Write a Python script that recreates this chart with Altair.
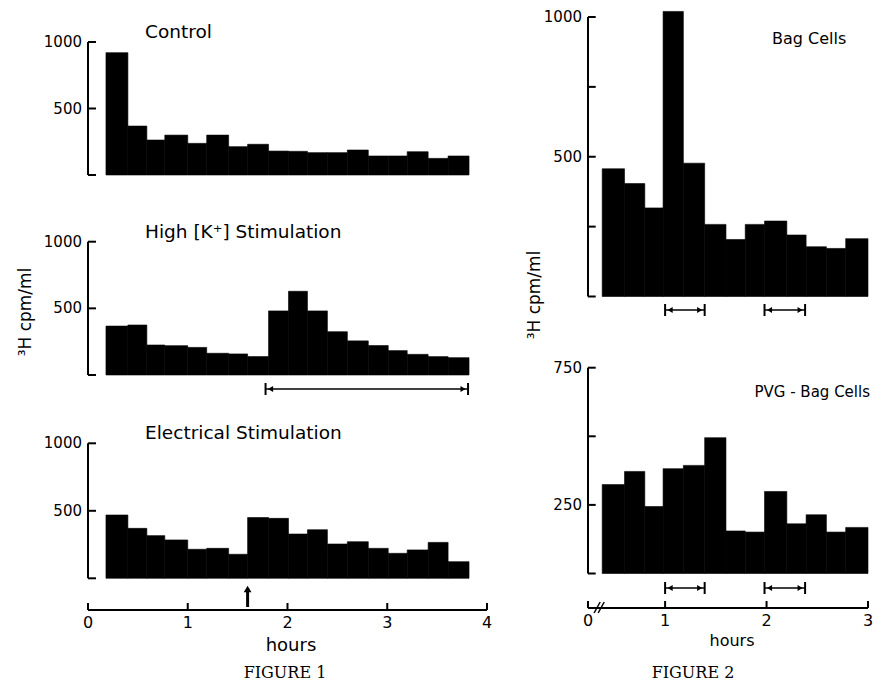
import altair as alt
import pandas as pd

FONT = "DejaVu Sans"
SERIF = "DejaVu Serif"

# ---------------- data ----------------
# Figure 1: bin edges in hours (18 collection periods)
fig1_edges = [0.18, 0.40, 0.59, 0.77, 1.00, 1.19, 1.41, 1.60, 1.81, 2.01,
              2.20, 2.40, 2.60, 2.81, 3.01, 3.20, 3.41, 3.61, 3.82]
control = [920, 368, 263, 300, 238, 300, 213, 231, 180, 178,
           168, 168, 188, 143, 143, 175, 125, 143]
high_k = [367, 375, 225, 220, 207, 163, 158, 138, 481, 628,
          481, 325, 256, 221, 183, 155, 138, 130]
electrical = [469, 370, 316, 284, 215, 222, 178, 450, 444, 328,
              360, 254, 271, 222, 185, 210, 266, 123]

# Figure 2: bin edges in hours (13 collection periods)
fig2_edges = [0.38, 0.60, 0.80, 0.98, 1.18, 1.39, 1.60, 1.79, 1.98,
              2.20, 2.39, 2.59, 2.78, 3.00]
bag_cells = [457, 404, 317, 1020, 477, 258, 204, 258, 270, 220, 178, 172, 207]
pvg_bag_cells = [324, 372, 244, 382, 394, 495, 155, 151, 299, 181, 214, 151, 168]

# axes
fig1_x_ticks = [0, 1, 2, 3, 4]
fig2_x_ticks = [1, 2, 3]
fig2_origin = 0.24            # broken-axis origin, labelled "0"
fig1_y_ticks = [0, 500, 1000]
fig1_y_labels = [500, 1000]
bag_y_ticks = [0, 250, 500, 750, 1000]
bag_y_labels = [500, 1000]
pvg_y_ticks = [0, 250, 500, 750]
pvg_y_labels = [250, 750]

# stimulation periods
highk_stim = [(1.78, 3.81)]
fig2_stims = [(1.0, 1.39), (1.98, 2.38)]
elec_stim_time = [1.6]

titles1 = ["Control", "High [K\u207a] Stimulation", "Electrical Stimulation"]
ylabel = "\u00b3H cpm/ml"

# ---------------- scales (pixel ranges = layout) ----------------
def S(domain, rng):
    return alt.Scale(domain=domain, range=rng, nice=False, zero=False)

X1 = S([0, 4], [80, 479])
X2 = S([1, 3], [657.1, 860])
Y_CTRL = S([0, 1000], [167, 34])
Y_K = S([0, 1000], [367, 233.7])
Y_E = S([0, 1000], [570.3, 435.3])
Y_BAG = S([0, 1000], [288.5, 9])
Y_PVG = S([0, 750], [565.5, 359.7])

layers = []


def bars(edges, values, xs, ys):
    df = pd.DataFrame({"start": edges[:-1], "end": edges[1:],
                       "value": values, "base": [0] * len(values)})
    return alt.Chart(df).mark_rect(color="black", stroke="black", strokeWidth=0.6).encode(
        x=alt.X("start:Q", scale=xs, axis=None), x2="end:Q",
        y=alt.Y("value:Q", scale=ys, axis=None), y2="base:Q")


def y_axis(xs, ys, x0, tick_len, ticks, labels, ymax):
    segs = [dict(x=x0, x2=x0, y=0, y2=ymax)] + \
           [dict(x=x0, x2=x0 + tick_len, y=t, y2=t) for t in ticks]
    rules = alt.Chart(pd.DataFrame(segs)).mark_rule(color="black", strokeWidth=2).encode(
        x=alt.X("x:Q", scale=xs, axis=None), x2="x2:Q",
        y=alt.Y("y:Q", scale=ys, axis=None), y2="y2:Q")
    lab = alt.Chart(pd.DataFrame({"x": [x0] * len(labels), "y": labels,
                                  "t": [str(v) for v in labels]})).mark_text(
        align="right", baseline="middle", dx=-6, fontSize=15, font=FONT, color="black").encode(
        x=alt.X("x:Q", scale=xs, axis=None), y=alt.Y("y:Q", scale=ys, axis=None), text="t:N")
    return [rules, lab]


def x_axis(xs, x_start, x_end, ticks, tick_labels, y_px, label_y):
    line = alt.Chart(pd.DataFrame({"a": [x_start], "b": [x_end]})).mark_rule(
        color="black", strokeWidth=2).encode(
        x=alt.X("a:Q", scale=xs, axis=None), x2="b:Q", y=alt.value(y_px))
    tk = alt.Chart(pd.DataFrame({"t": ticks})).mark_rule(color="black", strokeWidth=2).encode(
        x=alt.X("t:Q", scale=xs, axis=None), y=alt.value(y_px - 7), y2=alt.value(y_px))
    lab = alt.Chart(pd.DataFrame({"t": ticks, "s": tick_labels})).mark_text(
        align="center", baseline="middle", fontSize=16, font=FONT, color="black").encode(
        x=alt.X("t:Q", scale=xs, axis=None), y=alt.value(label_y), text="s:N")
    return [line, tk, lab]


def stim_arrows(xs, periods, y_px):
    df = pd.DataFrame({"a": [p[0] for p in periods], "b": [p[1] for p in periods]})
    line = alt.Chart(df).mark_rule(color="black", strokeWidth=1.5).encode(
        x=alt.X("a:Q", scale=xs, axis=None), x2="b:Q", y=alt.value(y_px))
    ends = pd.DataFrame({"e": [p[0] for p in periods] + [p[1] for p in periods]})
    caps = alt.Chart(ends).mark_rule(color="black", strokeWidth=2).encode(
        x=alt.X("e:Q", scale=xs, axis=None), y=alt.value(y_px - 6), y2=alt.value(y_px + 6))
    left = alt.Chart(df).mark_point(shape="triangle-left", filled=True, color="black",
                                    size=35, opacity=1, xOffset=5).encode(
        x=alt.X("a:Q", scale=xs, axis=None), y=alt.value(y_px))
    right = alt.Chart(df).mark_point(shape="triangle-right", filled=True, color="black",
                                     size=35, opacity=1, xOffset=-5).encode(
        x=alt.X("b:Q", scale=xs, axis=None), y=alt.value(y_px))
    return [line, caps, left, right]


def text_at(s, x, y, size, font=FONT, align="left", angle=0):
    kw = {}
    if angle:
        kw["angle"] = angle
    return alt.Chart(pd.DataFrame({"s": [s]})).mark_text(
        align=align, baseline="middle", fontSize=size, font=font, color="black", **kw).encode(
        x=alt.value(x), y=alt.value(y), text="s:N")


# ---------------- Figure 1 ----------------
for vals, ys, title, ty in [(control, Y_CTRL, titles1[0], 24),
                            (high_k, Y_K, titles1[1], 224),
                            (electrical, Y_E, titles1[2], 425)]:
    layers.append(bars(fig1_edges, vals, X1, ys))
    layers += y_axis(X1, ys, 0, 0.08, fig1_y_ticks, fig1_y_labels, 1000)
    layers.append(text_at(title, 137, ty, 18.5))

layers += stim_arrows(X1, highk_stim, 381)

# electrical stimulation arrow
layers.append(alt.Chart(pd.DataFrame({"t": elec_stim_time})).mark_rule(
    color="black", strokeWidth=3).encode(
    x=alt.X("t:Q", scale=X1, axis=None), y=alt.value(599), y2=alt.value(584)))
layers.append(alt.Chart(pd.DataFrame({"t": elec_stim_time})).mark_point(
    shape="triangle-up", filled=True, color="black", size=60, opacity=1).encode(
    x=alt.X("t:Q", scale=X1, axis=None), y=alt.value(581)))

layers += x_axis(X1, 0, 4, fig1_x_ticks, [str(t) for t in fig1_x_ticks], 602, 615)
layers.append(text_at("hours", 283, 638, 18, align="center"))
layers.append(text_at("FIGURE 1", 277, 665, 16, font=SERIF, align="center"))
layers.append(text_at(ylabel, 18, 304, 17, align="center", angle=270))

# ---------------- Figure 2 ----------------
layers.append(bars(fig2_edges, bag_cells, X2, Y_BAG))
layers += y_axis(X2, Y_BAG, fig2_origin, 0.076, bag_y_ticks, bag_y_labels, 1000)
layers.append(text_at("Bag Cells", 764, 31, 16))
layers += stim_arrows(X2, fig2_stims, 302)

layers.append(bars(fig2_edges, pvg_bag_cells, X2, Y_PVG))
layers += y_axis(X2, Y_PVG, fig2_origin, 0.076, pvg_y_ticks, pvg_y_labels, 750)
layers.append(text_at("PVG - Bag Cells", 862, 384, 15, align="right"))
layers += stim_arrows(X2, fig2_stims, 580)

layers += x_axis(X2, fig2_origin, 3, [fig2_origin] + fig2_x_ticks,
                 ["0"] + [str(t) for t in fig2_x_ticks], 600, 613)
# axis break marks "//"
brk = pd.DataFrame({"a": [0.30, 0.34], "b": [0.36, 0.40]})
layers.append(alt.Chart(brk).mark_rule(color="black", strokeWidth=1.5).encode(
    x=alt.X("a:Q", scale=X2, axis=None), x2="b:Q", y=alt.value(605), y2=alt.value(594)))
layers.append(text_at("hours", 724, 633, 16, align="center"))
layers.append(text_at("FIGURE 2", 685, 665, 16, font=SERIF, align="center"))
layers.append(text_at(ylabel, 527, 287, 17, align="center", angle=270))

chart = alt.layer(*layers).resolve_scale(x="independent", y="independent").properties(
    width=865, height=676, padding=0,
    autosize=alt.AutoSizeParams(type="none")
).configure_view(stroke=None)

chart.save("out.html", embed_options={"renderer": "svg", "actions": False})
